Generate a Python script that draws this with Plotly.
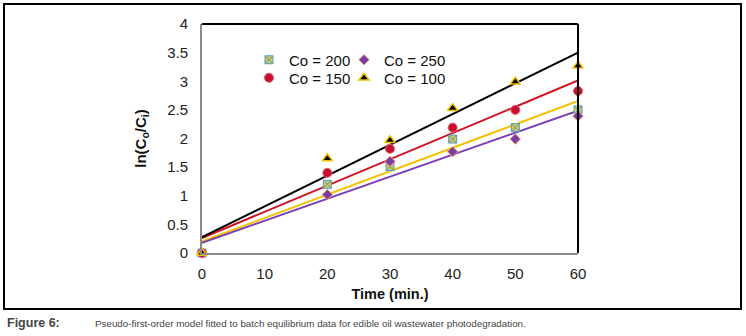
import numpy as np
import plotly.graph_objects as go

# ---- data ----
time_min = [0, 20, 30, 40, 50, 60]
co200 = [0, 1.20, 1.51, 1.99, 2.19, 2.50]
co250 = [0, 1.02, 1.60, 1.77, 1.99, 2.39]
co150 = [0, 1.40, 1.82, 2.19, 2.50, 2.83]
co100 = [0, 1.65, 1.97, 2.53, 2.99, 3.27]
series_names = ["Co = 200", "Co = 250", "Co = 150", "Co = 100"]
x_ticks = [0, 10, 20, 30, 40, 50, 60]
y_ticks = [0, 0.5, 1, 1.5, 2, 2.5, 3, 3.5, 4]

W, H = 746, 336
L, R, T, B = 202, 578, 24, 253  # plot area pixel box


def px(x):
    return (x - L) / (R - L)


def py(y):
    return (B - y) / (B - T)


FONT = "Liberation Sans, Arial, sans-serif"

styles = [
    dict(name=series_names[0], y=co200, symbol="square-x", size=8, fill="#D6CB4E",
         mline="#4F9BC6", mwidth=1, trend="#F5C000", legend="legend",
         lx=249, ly=60),
    dict(name=series_names[1], y=co250, symbol="diamond", size=8, fill="#7A3BA8",
         mline="#F7A35C", mwidth=1, trend="#7B3DB5", legend="legend2",
         lx=344, ly=60),
    dict(name=series_names[2], y=co150, symbol="circle", size=9, fill="#C8102E",
         mline="#E06070", mwidth=1, trend="#D0101E", legend="legend3",
         lx=249, ly=78),
    dict(name=series_names[3], y=co100, symbol="triangle-up", size=9, fill="#000000",
         mline="#F5C000", mwidth=1.5, trend="#000000", legend="legend4",
         lx=344, ly=78),
]

fig = go.Figure()

# trendlines (linear least squares of each series, as in the source)
xt = np.array([min(time_min), max(time_min)], dtype=float)
for s in styles:
    k, b0 = np.polyfit(time_min, s["y"], 1)
    fig.add_trace(go.Scatter(x=xt, y=k * xt + b0, mode="lines",
                             line=dict(color=s["trend"], width=2),
                             showlegend=False, hoverinfo="skip", cliponaxis=False))

for s in styles:
    fig.add_trace(go.Scatter(
        x=time_min, y=s["y"], mode="markers", name=s["name"], legend=s["legend"],
        marker=dict(symbol=s["symbol"], size=s["size"], color=s["fill"],
                    line=dict(color=s["mline"], width=s["mwidth"])),
        cliponaxis=False))

legend_common = dict(orientation="h", bgcolor="rgba(0,0,0,0)",
                     xanchor="left", yanchor="middle",
                     font=dict(family=FONT, size=15, color="#111"),
                     itemwidth=30)

legends = {s["legend"]: dict(x=px(s["lx"]), y=py(s["ly"]), **legend_common) for s in styles}

CAP_FONT = "Liberation Sans, Arial, sans-serif"

fig.update_layout(
    width=W, height=H,
    margin=dict(l=L, r=W - R, t=T, b=H - B, pad=0),
    paper_bgcolor="white", plot_bgcolor="white",
    font=dict(family=FONT, color="#222"),
    xaxis=dict(range=[0, 60], tickvals=x_ticks, showgrid=False, zeroline=False,
               showline=True, linecolor="#8a8a8a", linewidth=2, ticks="",
               tickfont=dict(size=15, color="#222"), ticklabelstandoff=6,
               title=dict(text="<b>Time (min.)</b>", font=dict(size=14.5, color="#111"),
                          standoff=8)),
    yaxis=dict(range=[0, 4], tickvals=y_ticks, showgrid=False, zeroline=False,
               showline=True, linecolor="#8a8a8a", linewidth=2, ticks="",
               tickfont=dict(size=15, color="#222"), ticklabelstandoff=9,
               title=dict(text="<b>ln(C<sub>o</sub>/C<sub>i</sub>)</b>",
                          font=dict(size=15, color="#111"), standoff=17)),
    shapes=[
        dict(type="line", xref="paper", yref="paper", x0=0, x1=1, y0=1, y1=1,
             line=dict(color="black", width=2), layer="above"),
        dict(type="line", xref="paper", yref="paper", x0=1, x1=1, y0=0, y1=1,
             line=dict(color="black", width=2), layer="above"),
        dict(type="rect", xref="paper", yref="paper", x0=px(4), x1=px(741),
             y0=py(309), y1=py(4), line=dict(color="black", width=2)),
    ],
    annotations=[
        dict(text="<b>Figure 6:</b>", xref="paper", yref="paper", x=px(5), y=py(323),
             xanchor="left", yanchor="middle", showarrow=False,
             font=dict(family=CAP_FONT, size=12.5, color="#444")),
        dict(text="Pseudo-first-order model fitted to batch equilibrium data for edible oil wastewater photodegradation.",
             xref="paper", yref="paper", x=px(93), y=py(323),
             xanchor="left", yanchor="middle", showarrow=False,
             font=dict(family=CAP_FONT, size=9.8, color="#444")),
    ],
    **legends,
)

fig.write_html("out.html", config={"displayModeBar": False},
               post_script="document.body.style.margin='0';document.body.style.padding='0';")
